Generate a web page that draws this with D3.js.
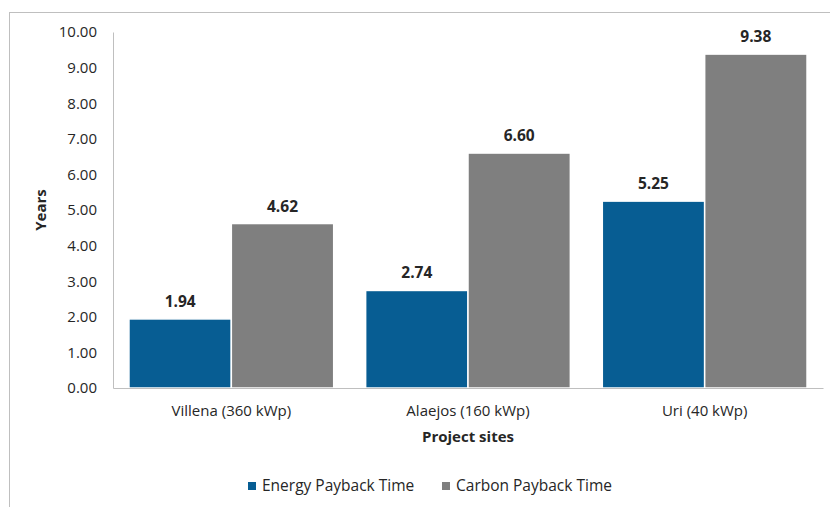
<!DOCTYPE html>
<html>
<head>
    <script src="https://d3js.org/d3.v7.min.js"></script>
    <style>
        body { margin: 0; background: #fff; }
        text { font-family: "Open Sans", "Noto Sans", sans-serif; fill: #262626; }
        .tick text { font-size: 15px; }
        .val { font-size: 15.5px; font-weight: bold; }
        .title { font-size: 15px; font-weight: bold; }
    </style>
</head>
<body>
    <svg width="830" height="507"></svg>
    <script>
        const sites = ["Villena (360 kWp)", "Alaejos (160 kWp)", "Uri (40 kWp)"];
        const seriesNames = ["Energy Payback Time", "Carbon Payback Time"];
        const energyPayback = [1.94, 2.74, 5.25];
        const carbonPayback = [4.62, 6.60, 9.38];
        const yTicks = [0, 1, 2, 3, 4, 5, 6, 7, 8, 9, 10];
        const colors = ["#075d93", "#7f7f7f"];

        const svg = d3.select("svg");
        const margin = {left: 113, right: 7, top: 32, bottom: 119};
        const W = 830, H = 507;

        // outer frame
        svg.append("rect").attr("x", 9.5).attr("y", 12.5).attr("width", 830).attr("height", 510)
            .attr("fill", "none").attr("stroke", "#bfbfbf");

        const x = d3.scaleBand().domain(sites).range([margin.left, W - margin.right])
            .paddingInner(0.135).paddingOuter(0.0675);
        const xs = d3.scaleBand().domain([0, 1]).range([0, x.bandwidth()]);
        const y = d3.scaleLinear().domain([0, 10]).range([H - margin.bottom, margin.top]);

        const rows = sites.map((s, i) => ({site: s, vals: [energyPayback[i], carbonPayback[i]]}));

        const g = svg.append("g");
        rows.forEach(r => {
            r.vals.forEach((v, k) => {
                g.append("rect")
                    .attr("x", x(r.site) + xs(k))
                    .attr("y", y(v))
                    .attr("width", xs.bandwidth())
                    .attr("height", y(0) - y(v))
                    .attr("fill", colors[k])
                    .attr("stroke", "#fff").attr("stroke-width", 1.5);
                g.append("text").attr("class", "val")
                    .attr("x", x(r.site) + xs(k) + xs.bandwidth() / 2)
                    .attr("y", y(v) - 12)
                    .attr("text-anchor", "middle")
                    .text(v.toFixed(2));
            });
        });

        // y axis
        const yAxis = svg.append("g").attr("transform", `translate(${margin.left},0)`)
            .call(d3.axisLeft(y).tickValues(yTicks).tickSize(0).tickPadding(16).tickFormat(d => d.toFixed(2)));
        yAxis.select(".domain").attr("stroke", "#bfbfbf");

        // x axis
        const xAxis = svg.append("g").attr("transform", `translate(0,${y(0)})`)
            .call(d3.axisBottom(x).tickSize(0).tickPadding(17));
        xAxis.select(".domain").attr("stroke", "#bfbfbf");
        svg.selectAll(".tick text").attr("fill", "#262626").style("font-family", '"Open Sans", sans-serif');

        svg.append("text").attr("class", "title")
            .attr("transform", `translate(46,${(y(0) + y(10)) / 2}) rotate(-90)`)
            .attr("text-anchor", "middle").text("Years");
        svg.append("text").attr("class", "title")
            .attr("x", (margin.left + W - margin.right) / 2).attr("y", 442)
            .attr("text-anchor", "middle").text("Project sites");

        // legend
        const legX = [248, 442];
        seriesNames.forEach((n, k) => {
            svg.append("rect").attr("x", legX[k]).attr("y", 482).attr("width", 8).attr("height", 8).attr("fill", colors[k]);
            svg.append("text").attr("x", legX[k] + 14).attr("y", 491).style("font-size", "15.5px").text(n);
        });
    </script>
</body>
</html>
